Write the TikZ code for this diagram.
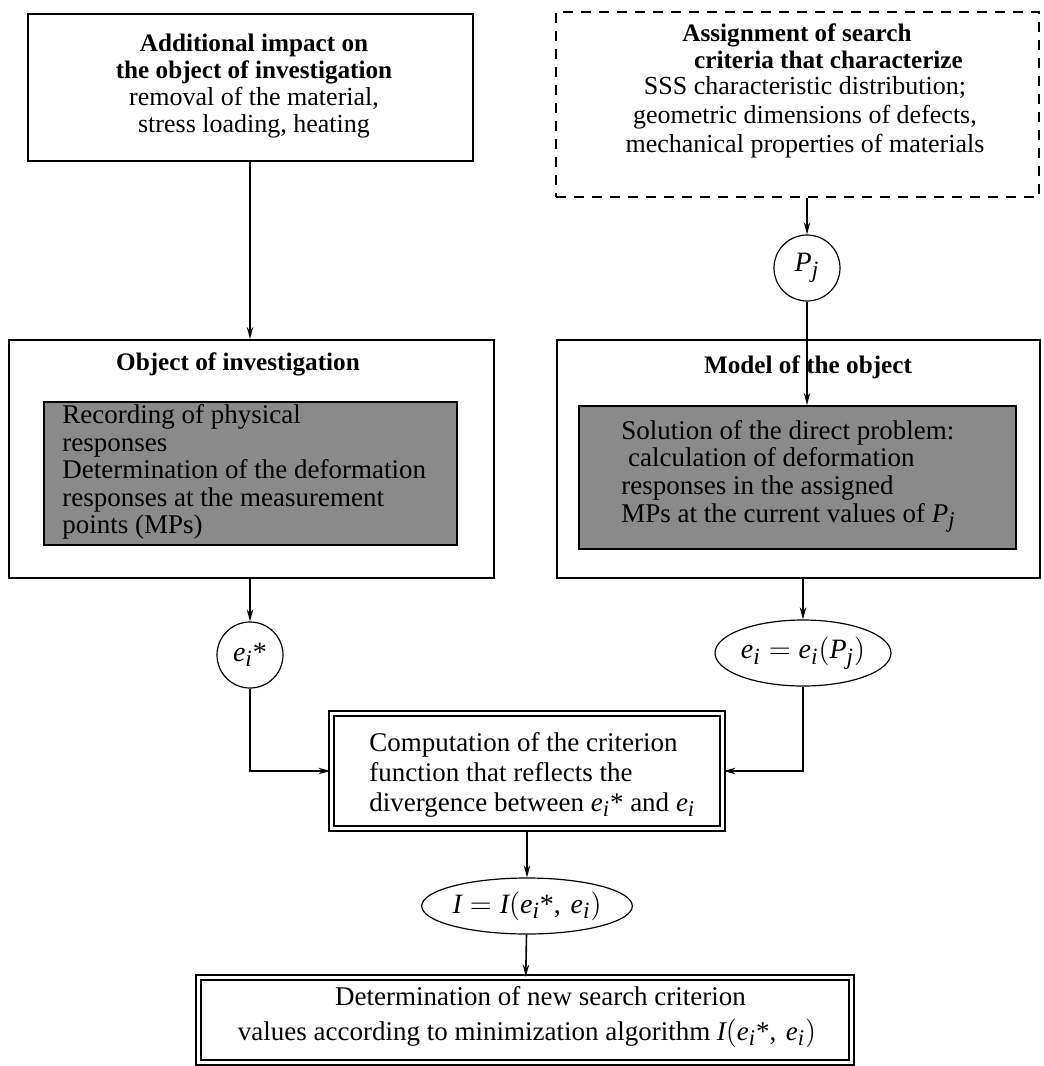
\documentclass[tikz,border=0pt]{standalone}
\usepackage{fontspec}
\setmainfont{Liberation Serif}
\usepackage[italic]{mathastext}
\usepackage{tikz}
\usetikzlibrary{shapes.geometric,arrows.meta}
\newcommand{\bt}{\fontsize{12.6}{13.5}\selectfont\bfseries}
\newcommand{\estar}{e_i\mbox{*}}
\tikzset{
  box/.style={draw, line width=1pt, inner sep=0pt},
  graybox/.style={box, fill=black!46},
  dbox/.style={draw, double, double distance=1.6pt, line width=0.9pt, inner sep=0pt},
  bubble/.style={draw, line width=0.6pt, inner sep=0pt, font=\fontsize{14}{14}\selectfont},
  conn/.style={-{Stealth[length=6pt,width=3.2pt]}, line width=0.8pt},
  txt/.style={font=\fontsize{13}{13.5}\selectfont, align=center, inner sep=0pt},
  ltxt/.style={font=\fontsize{13.5}{13.8}\selectfont, align=left, inner sep=0pt, anchor=west}
}
\begin{document}
\begin{tikzpicture}[x=0.5pt, y=-0.5pt]
\useasboundingbox (0,0) rectangle (1044,1066);
\node[box, minimum width=222.5pt, minimum height=73.5pt] (addbox) at (250,87.5) {};
\node[txt] (addtext) at (254,86) {{\bt Additional impact on}\\{\bt the object of investigation}\\removal of the material,\\stress loading, heating};
\node[box, dashed, dash pattern=on 5pt off 4pt, minimum width=241.5pt, minimum height=92.5pt] (asgbox) at (797.5,104.5) {};
\node[txt] (asgtitle) at (797,46) {{\bt Assignment of search}\\{\bt\hspace*{2.5em}criteria that characterize}};
\node[txt, font=\fontsize{13}{14.5}\selectfont] (asgtext) at (805,117) {SSS characteristic distribution;\\geometric dimensions of defects,\\mechanical properties of materials};
\node[bubble, circle, minimum size=33pt] (pj) at (807,268) {$P_j$};
\node[box, minimum width=242.5pt, minimum height=119pt] (objbox) at (251.5,459) {};
\node[txt] (objtitle) at (238,364) {\bt Object of investigation};
\node[graybox, minimum width=206.5pt, minimum height=71.5pt] (objgray) at (250.5,473.5) {};
\node[ltxt] (objtext) at (62,472) {Recording of physical\\responses\\Determination of the deformation\\responses at the measurement\\points (MPs)};
\node[box, minimum width=241.5pt, minimum height=119pt] (modbox) at (798.5,459) {};
\node[txt] (modtitle) at (808,367) {\bt Model of the object};
\node[graybox, minimum width=218.5pt, minimum height=71.5pt] (modgray) at (797.5,477.5) {};
\node[ltxt] (modtext) at (621,476) {Solution of the direct problem:\\\hspace*{0.25em}calculation of deformation\\responses in the assigned\\MPs at the current values of $P_j$};
\node[bubble, circle, minimum size=33pt] (estar) at (250,655) {$\estar$};
\node[bubble, ellipse, minimum width=88pt, minimum height=33pt] (eiell) at (803,653) {$e_i = e_i(P_j)$};
\node[dbox, minimum width=195.6pt, minimum height=57.6pt] (compbox) at (527,771) {};
\node[ltxt, font=\fontsize{13.5}{15}\selectfont] (comptext) at (369,775) {Computation of the criterion\\function that reflects the\\divergence between $\estar$ and $e_i$};
\node[bubble, ellipse, minimum width=102pt, minimum height=28pt] (Iell) at (527,906) {$I = I(\estar,\, e_i)$};
\node[dbox, minimum width=326.6pt, minimum height=42.5pt] (finbox) at (525,1020) {};
\node[txt, font=\fontsize{13.5}{17.5}\selectfont] (fintext) at (527,1017) {\hspace*{1em}Determination of new search criterion\\values according to minimization algorithm $I(\estar,\, e_i)$};
\draw[conn] (addbox.south) -- (addbox.south |- objbox.north);
\draw[conn] (pj |- asgbox.south) -- (pj);
\draw[conn] (pj) -- (pj |- modgray.north);
\draw[conn] (estar |- objbox.south) -- (estar);
\draw[conn] (eiell |- modbox.south) -- (eiell);
\draw[conn] (estar) |- (compbox);
\draw[conn] (eiell) |- (compbox);
\draw[conn] (compbox) -- (Iell);
\draw[conn] (Iell) -- (finbox);
\end{tikzpicture}
\end{document}
